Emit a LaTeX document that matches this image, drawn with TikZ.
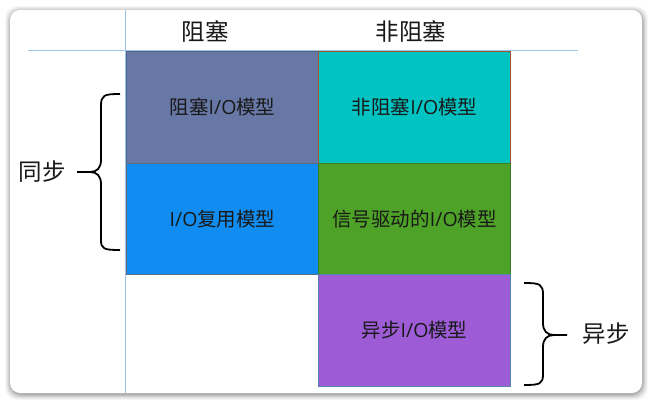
\documentclass[tikz,border=0pt]{standalone}
\usepackage{fontspec}
\setmainfont{Noto Sans CJK SC}
\newfontfamily\latfont{Open Sans}
\newcommand{\myio}{{\latfont I/O}}
\begin{document}
\begin{tikzpicture}[x=1pt,y=-1pt,
  cell/.style={draw, line width=1.2pt, minimum width=192pt, minimum height=111.5pt, anchor=north west, inner sep=0pt, font=\fontsize{19.5}{22}\selectfont, text=black!90},
  head/.style={font=\fontsize{23.5}{26}\selectfont, inner sep=0pt, text=black!90},
  guide/.style={draw=guideblue, line width=0.9pt},
  brace/.style={draw=black, line width=1.8pt}
]
\definecolor{guideblue}{HTML}{9DC3E6}
\definecolor{cA}{HTML}{6878A6}
\definecolor{cAb}{HTML}{4F6488}
\definecolor{cB}{HTML}{00C3C2}
\definecolor{cBb}{HTML}{A0582E}
\definecolor{cC}{HTML}{118CF0}
\definecolor{cCb}{HTML}{5C6C80}
\definecolor{cD}{HTML}{4EA227}
\definecolor{cDb}{HTML}{3B7E25}
\definecolor{cE}{HTML}{9D5CD6}
\definecolor{cEb}{HTML}{5585B5}
\useasboundingbox (0,0) rectangle (652,404);
\fill[white] (0,0) rectangle (652,404);
% shadow
\foreach \d/\o in {6/0.03,5/0.04,4/0.05,3/0.06,2/0.08,1/0.10}{
  \fill[black, opacity=\o, rounded corners=12pt] (10-\d+1,10-\d+2) rectangle (642+\d,393+\d+1);
}
\fill[white, rounded corners=10pt] (10,10) rectangle (642,393);
% guide lines
\coordinate (vt) at (125,10);
\coordinate (vb) at (125,393);
\coordinate (hl) at (28,50);
\coordinate (hr) at (578,50);
\draw[guide] (vt) -- (vb);
\draw[guide] (hl) -- (hr);
% headers
\node[head] (h1) at (205,31) {阻塞};
\node[head] (h2) at (411,31) {非阻塞};
% cells
\node[cell, fill=cA, draw=cAb] (a) at (126,51) {阻塞\myio 模型};
\node[cell, fill=cB, draw=cBb] (b) at (318,51) {非阻塞\myio 模型};
\node[cell, fill=cC, draw=cCb] (c) at (126,162.5) {\myio 复用模型};
\node[cell, fill=cD, draw=cDb] (d) at (318,162.5) {信号驱动的\myio 模型};
\node[cell, fill=cE, draw=cEb] (e) at (318,274) {异步\myio 模型};
% side labels
\node[head] (s1) at (42,172) {同步};
\node[head] (s2) at (606,334) {异步};
% left brace
\draw[brace] (120,94) .. controls (104,94) and (101,95) .. (101,106) -- (101,160)
  .. controls (101,168) and (97,172) .. (90,172) -- (77,172);
\draw[brace] (90,172) .. controls (97,172) and (101,176) .. (101,184) -- (101,240)
  .. controls (101,249) and (104,250) .. (120,250);
% right brace
\draw[brace] (524,283) .. controls (540,283) and (543,284) .. (543,295) -- (543,323)
  .. controls (543,331) and (547,335) .. (554,335) -- (567,335);
\draw[brace] (554,335) .. controls (547,335) and (543,339) .. (543,347) -- (543,374)
  .. controls (543,384) and (540,385) .. (524,385);
\end{tikzpicture}
\end{document}
